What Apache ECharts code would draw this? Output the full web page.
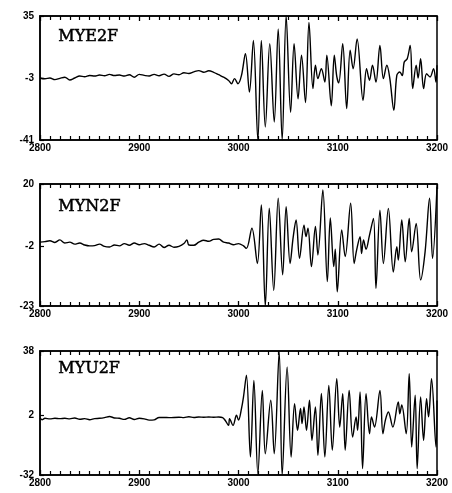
<!DOCTYPE html>
<html>
<head>
<meta charset="utf-8">
<script src="https://cdn.jsdelivr.net/npm/echarts@6/dist/echarts.min.js"></script>
<style>
  html, body { margin: 0; padding: 0; background: #fff; }
  #chart { width: 452px; height: 493px; }
</style>
</head>
<body>
<div id="chart"></div>
<script>
// station names
var stations = ['MYE2F', 'MYN2F', 'MYU2F'];

// time axis
var timeMin = 2800;
var timeMax = 3200;
var timeLabels = [2800, 2900, 3000, 3100, 3200];

// amplitude axis labels (min, middle, max) per panel
var yLabelsE = [-41, -3, 35];
var yLabelsN = [-23, -2, 20];
var yLabelsU = [-32, 2, 38];

// traces, [time, amplitude]
var mye2f = [
  [2800,-3],[2805,-3.5],[2810,-3],[2815,-4],[2820,-3.2],[2825,-2.5],[2830,-4.2],[2835,-3],
  [2840,-1.8],[2845,-2.2],[2850,-1.5],[2855,-1.8],[2860,-1.2],[2865,-1.6],[2870,-0.8],
  [2875,-1.5],[2880,-1.2],[2885,-1.8],[2890,-1],[2895,-2.5],[2900,-0.8],[2905,-1.4],
  [2910,-1.8],[2915,-0.8],[2920,-1.6],[2925,-0.6],[2930,-2],[2935,-0.5],[2940,-1],
  [2945,0.2],[2950,-0.2],[2955,0.8],[2960,1.5],[2965,0.5],[2970,1.4],[2975,0.5],
  [2980,-1],[2985,-2.5],[2990,-4.5],[2993,-6.5],[2996,-3.4],[2999.5,-6.5],[3003,-1.4],
  [3007,11.9],[3011,-11.6],[3015,20],[3019.5,-41],[3023,20],[3027,-33],[3031.5,18],
  [3036,-30],[3040,27],[3044,-41],[3048,35],[3052.5,-24],[3056,18],[3060,-15.7],
  [3063.5,11],[3067.5,-18],[3071,31],[3075,-9.5],[3077.5,4.8],[3080,-3.4],[3083.5,2.7],
  [3087,-5.5],[3089,11],[3093.5,-20],[3096.5,11],[3099,-2],[3101,-6],[3105,18],
  [3109,-21.8],[3112.5,14],[3115.5,2.7],[3119.5,21],[3125.5,-16.7],[3129,2.7],[3132,-4.4],
  [3135,4.8],[3138.5,-5.5],[3142.5,17],[3146,-3.4],[3149.5,4.8],[3152.5,-3.4],
  [3156.5,-22.8],[3159.5,-1.4],[3162.5,0.7],[3165,-1.5],[3167,6.8],[3170,8.8],[3173,17],
  [3175.5,-9.5],[3179,4.8],[3181,-3],[3183.5,8.8],[3186.5,-9.5],[3189.5,-0.4],
  [3193,-2.4],[3196.5,2.7],[3199,-5.5],[3200,4.8]
];

var myn2f = [
  [2800,-0.5],[2805,-0.3],[2810,0],[2815,-0.6],[2820,0.3],[2825,-0.8],[2830,-0.5],
  [2835,-1.2],[2840,-0.8],[2845,-1.5],[2850,-1.8],[2855,-1.7],[2860,-1.2],[2865,-2],
  [2870,-2.2],[2875,-1.5],[2880,-1.8],[2885,-1],[2890,-1.6],[2895,-0.8],[2900,-1.4],
  [2905,-1],[2910,-1.6],[2915,-2.2],[2920,-1.2],[2925,-2.4],[2930,-1.6],[2935,-2.3],
  [2940,-2],[2945,-1],[2948,0.3],[2950,-1.5],[2955,-1.6],[2960,-0.5],[2965,0.2],
  [2970,-0.2],[2975,0.5],[2980,0.6],[2985,-0.5],[2990,-0.8],[2995,-1.4],[3000,-1],
  [3005,-1.8],[3008,-2.7],[3013.5,4.4],[3019,-8],[3023,12.6],[3027,-23],[3031,11.5],
  [3035.5,-17.5],[3040,15],[3044.5,-12],[3048,12],[3052,-8],[3055,1],[3058,7.3],
  [3061.5,-6.2],[3066,5.5],[3068,1.5],[3070,4.4],[3073.5,-9.1],[3077.5,5],[3080,-5],
  [3085,17.9],[3089.5,-14.4],[3092.5,8],[3096,-9.1],[3097.5,-3],[3099.5,-18],[3104,3.8],
  [3107.5,-5.6],[3113,13.2],[3116.5,-8],[3119,-3.3],[3122.5,1.4],[3124,-4.5],[3126,0.3],
  [3128.5,-3],[3132,2],[3136,7.9],[3138.5,-16.8],[3142.5,10.8],[3146,-8],[3151,11.4],
  [3156,-11],[3159.5,-2.1],[3161,-6.8],[3164.5,7.3],[3168,-7.4],[3172,7.9],[3174.5,-3.9],
  [3179,6.1],[3183.5,-13.8],[3188,-3.9],[3192.5,15],[3195.5,-6.2],[3200,19]
];

var myu2f = [
  [2800,0.2],[2802,-0.8],[2805,0],[2810,-0.3],[2815,0],[2820,-0.2],[2825,0],[2830,-0.3],
  [2835,0.2],[2840,-0.5],[2845,-0.2],[2850,-0.8],[2855,-0.2],[2860,0],[2865,0.4],
  [2870,1],[2875,0.2],[2880,0],[2885,-0.6],[2890,0.3],[2895,-0.7],[2900,0],[2905,-0.3],
  [2910,-1],[2915,-0.9],[2920,0.5],[2925,0.5],[2930,0.4],[2940,0.6],[2945,0.4],
  [2950,0.9],[2955,0.5],[2960,0.7],[2965,0.6],[2970,0.7],[2975,0.6],[2980,0.7],
  [2984,0.4],[2987,-1.5],[2990,-4],[2991,-0.2],[2994.5,-4],[2998,1.7],[3000,-1],
  [3003,5.5],[3005,12],[3008,24.3],[3012,-21.8],[3015.5,21.4],[3019.5,-31.3],[3024,15.8],
  [3027,-20],[3032.5,10.2],[3036,-20],[3041,37.4],[3044,-32],[3049,29],[3053,-21.8],
  [3056.5,8.3],[3059.5,-6.8],[3062.5,5.5],[3064,-3],[3066,6.4],[3068.5,-6.8],
  [3071.5,10.2],[3074,-12.4],[3077.5,6.4],[3080,-20.9],[3083.5,14],[3087,-21.8],
  [3091,18.6],[3094.5,-18],[3099,22.4],[3102,-5],[3105,13.9],[3107.5,-18],[3111.5,15.8],
  [3115,-10.6],[3118.5,0.7],[3120,-6.8],[3122.5,14.9],[3125,-28.4],[3128.5,13.9],
  [3132,-8.7],[3134,0.7],[3137,-4.9],[3142.5,15.8],[3145.5,-8.7],[3148,-1],[3151,3.6],
  [3155.5,-4.9],[3161,9.2],[3162.5,2.6],[3164.5,7.5],[3169,-8.7],[3172,25.2],
  [3174.5,-16.2],[3178,13],[3180,-28.4],[3183.5,12],[3186.5,-12.4],[3189.5,11.1],
  [3191.5,0.8],[3194.5,22.4],[3199,-16.2],[3200,10]
];

var traces = [mye2f, myn2f, myu2f];
var yLabels = [yLabelsE, yLabelsN, yLabelsU];

// panel boxes
var panels = [
  { top: 16, height: 124, labelY: 38 },
  { top: 184, height: 122, labelY: 208 },
  { top: 351, height: 124, labelY: 370 }
];

var labelFont = { color: '#000', fontFamily: 'Liberation Sans', fontWeight: 'bold', fontSize: 10 };
var axisLineStyle = { show: true, onZero: false, lineStyle: { color: '#000', width: 1.5 } };
var plain = function (v) { return String(v); };

var grid = [], xAxis = [], yAxis = [], series = [], graphic = [];

panels.forEach(function (p, i) {
  grid.push({
    left: 40, width: 397, top: p.top, height: p.height,
    show: true, borderColor: '#000', borderWidth: 1.5, backgroundColor: '#fff'
  });

  // bottom axis with labels, top axis with ticks only
  ['bottom', 'top'].forEach(function (pos) {
    xAxis.push({
      type: 'value', gridIndex: i, min: timeMin, max: timeMax, interval: 100,
      position: pos,
      axisLine: axisLineStyle,
      axisTick: { show: true, inside: true, length: 5, lineStyle: { color: '#000', width: 1.3 } },
      minorTick: { show: true, splitNumber: 10, length: 4, lineStyle: { color: '#000', width: 1.2 } },
      splitLine: { show: false },
      axisLabel: pos === 'bottom'
        ? Object.assign({ margin: 3, customValues: timeLabels, formatter: plain }, labelFont)
        : { show: false }
    });
  });

  var yl = yLabels[i];
  yAxis.push({
    type: 'value', gridIndex: i, min: yl[0], max: yl[2],
    axisLine: axisLineStyle,
    axisTick: { show: true, inside: true, length: 4, customValues: yl, lineStyle: { color: '#000', width: 1.2 } },
    splitLine: { show: false },
    axisLabel: Object.assign({ margin: 6, customValues: yl, formatter: plain }, labelFont)
  });

  series.push({
    type: 'line', xAxisIndex: i * 2, yAxisIndex: i,
    data: traces[i], showSymbol: false, symbol: 'none', clip: true,
    smooth: 0.35,
    lineStyle: { color: '#000', width: 1.4 },
    animation: false
  });

  graphic.push({
    type: 'text', left: 58, top: p.labelY - 9,
    style: {
      text: stations[i], fill: '#000', font: '16px "DejaVu Serif"',
      stroke: '#000', lineWidth: 0.5
    }
  });
});

var myChart = echarts.init(document.getElementById('chart'));
myChart.setOption({
  backgroundColor: '#fff',
  animation: false,
  grid: grid,
  xAxis: xAxis,
  yAxis: yAxis,
  series: series,
  graphic: graphic
});
</script>
</body>
</html>
